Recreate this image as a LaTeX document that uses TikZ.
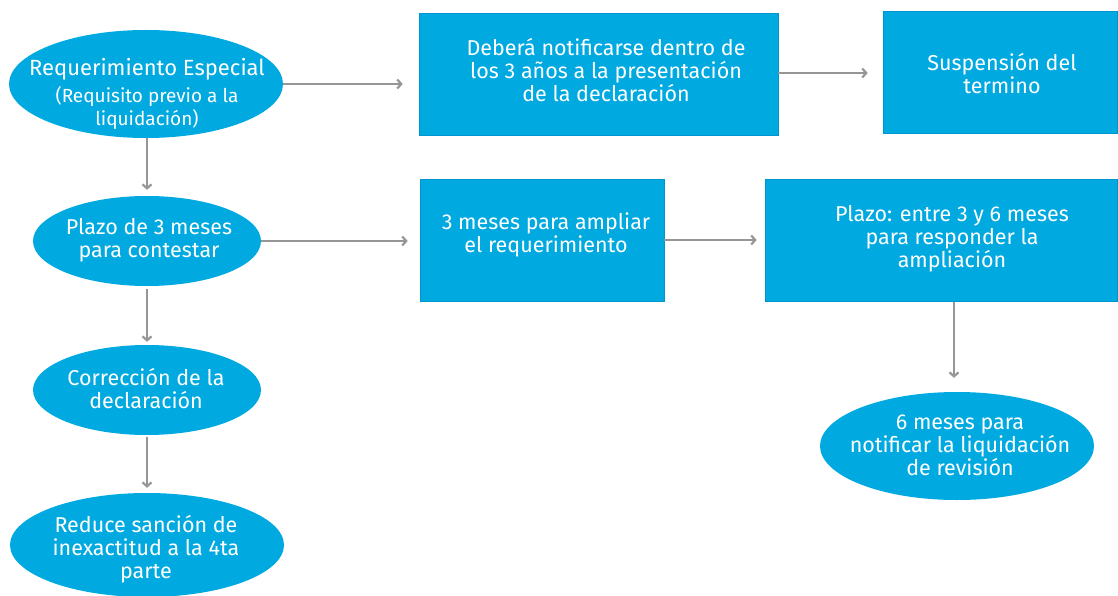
\documentclass[tikz,border=0pt]{standalone}
\usepackage{fontspec}
\setmainfont{Fira Sans}
\usetikzlibrary{shapes.geometric,arrows.meta}
\definecolor{boxblue}{RGB}{0,169,224}
\definecolor{boxedge}{RGB}{0,150,205}
\definecolor{conngray}{RGB}{150,150,150}
\tikzset{
  oval/.style={ellipse, fill=boxblue, inner sep=0pt},
  rect/.style={rectangle, fill=boxblue, draw=boxedge, line width=0.6pt, inner sep=0pt},
  lbl/.style={text=white, align=center, font=\fontsize{21.5}{23}\selectfont, inner sep=0pt},
  conn/.style={draw=conngray, line width=1.6pt, -{Straight Barb[length=4pt,width=9pt,line width=2.2pt]}},
}
\begin{document}
\begin{tikzpicture}[x=1pt,y=-1pt]
\useasboundingbox (0,0) rectangle (1118,596);
% ellipses
\node[oval, minimum width=274pt, minimum height=108pt] (e1) at (146,84) {};
\node[oval, minimum width=228pt, minimum height=90pt] (e2) at (147,241) {};
\node[oval, minimum width=228pt, minimum height=90pt] (e3) at (147,390) {};
\node[oval, minimum width=274pt, minimum height=104pt] (e4) at (147,545) {};
\node[oval, minimum width=274pt, minimum height=108pt] (e5) at (957,446) {};
% rectangles
\node[rect, minimum width=359pt, minimum height=122pt] (r1) at (598.5,74) {};
\node[rect, minimum width=234pt, minimum height=122pt] (r2) at (1000,72) {};
\node[rect, minimum width=244pt, minimum height=122pt] (r3) at (542,240) {};
\node[rect, minimum width=352pt, minimum height=122pt] (r4) at (941,240) {};
% texts
\node[lbl, align=center] (t1) at (147,94) {{\fontsize{22}{28}\selectfont Requerimiento Especial}\\[4pt]{\fontsize{19}{20}\selectfont (Requisito previo a la}\\{\fontsize{19}{20}\selectfont liquidación)}};
\node[lbl] (t2) at (149,240) {Plazo de 3 meses\\para contestar};
\node[lbl] (t3) at (146,389) {Corrección de la\\declaración};
\node[lbl] (t4) at (146,549) {Reduce sanción de\\inexactitud a la 4ta\\parte};
\node[lbl] (t5) at (960,445) {6 meses para\\notificar la liquidación\\de revisión};
\node[lbl] (tr1) at (606,70) {Deberá notificarse dentro de\\los 3 años a la presentación\\de la declaración};
\node[lbl] (tr2) at (1002,74) {Suspensión del\\termino};
\node[lbl] (tr3) at (546,235) {3 meses para ampliar\\el requerimiento};
\node[lbl] (tr4) at (952,239) {Plazo: entre 3 y 6 meses\\para responder la\\ampliación};
% connectors
\draw[conn, shorten >=16pt] (e1.east) -- (e1.east -| r1.west);
\draw[conn, shorten >=15pt] (r1.east |- 0,73) -- (r2.west |- 0,73);
\draw[conn, shorten >=12pt] (e2.east) -- (e2.east -| r3.west);
\draw[conn, shorten >=8pt] (r3.east) -- (r4.west);
\draw[conn, shorten >=6pt] (e1.south -| 147,0) -- (e2.north);
\draw[conn, shorten <=3pt, shorten >=3pt] (e2.south) -- (e3.north);
\draw[conn, shorten <=2pt, shorten >=5pt] (e3.south) -- (e4.north);
\draw[conn, shorten <=1pt, shorten >=14pt] (r4.south -| 954,0) -- (e5.north -| 954,0);
\end{tikzpicture}
\end{document}
